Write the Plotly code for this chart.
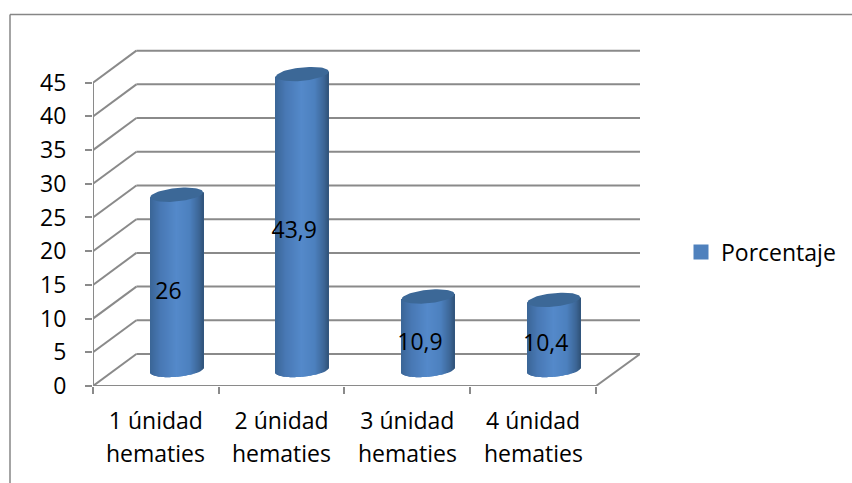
import math
import plotly.graph_objects as go

# Chart content
categories = ["1 únidad", "2 únidad", "3 únidad", "4 únidad"]
second_line = ["hematies", "hematies", "hematies", "hematies"]
values = [26, 43.9, 10.9, 10.4]
series_name = "Porcentaje"
y_ticks = [0, 5, 10, 15, 20, 25, 30, 35, 40, 45]

W, H = 852, 483
FONT = dict(family="Open Sans", size=23, color="#000000")
GREY = "#8a8a8a"

# Pseudo-3D box: how far the back wall sits from the front plane, in axis units
DX, DY = 0.345, 4.75
X_MAX, Y_MAX = 4.35, 54.3
# Cylinder proportions, in axis units
HALF_W, CAP_B, CAP_TILT = 0.21, 1.0, 0.37
CYL_SHIFT = 0.165
STRIPS = 53


def mix(c1, c2, t):
    return tuple(a + (b - a) * t for a, b in zip(c1, c2))


SHADE = [
    (-1.0, (58, 101, 150)),
    (-0.6, (72, 120, 180)),
    (0.0, (84, 137, 202)),
    (0.5, (76, 128, 190)),
    (0.85, (60, 102, 150)),
    (1.0, (48, 84, 122)),
]


def shade(u):
    for (u0, c0), (u1, c1) in zip(SHADE, SHADE[1:]):
        if u <= u1:
            r, g, b = mix(c0, c1, (u - u0) / (u1 - u0))
            return f"rgb({r:.0f},{g:.0f},{b:.0f})"
    return "rgb(48,84,122)"


# One narrow bar per shading strip, curved along the foot of the cylinder
strip_x, strip_base, strip_h, strip_col = [], [], [], []
for i, v in enumerate(values):
    cx = i + 0.5 + CYL_SHIFT
    for s in range(STRIPS):
        u = -1 + (2 * s + 1) / STRIPS
        base = DY / 2 + CAP_TILT * u - CAP_B * math.sqrt(1 - u * u)
        top = v + DY / 2 + CAP_TILT * u
        strip_x.append(cx + u * HALF_W)
        strip_base.append(base)
        strip_h.append(top - base)
        strip_col.append(shade(u))

fig = go.Figure()
fig.add_bar(
    x=strip_x, y=strip_h, base=strip_base, width=2 * HALF_W / STRIPS,
    marker=dict(color=strip_col, line_width=0),
    showlegend=False, hoverinfo="skip",
)

# Elliptical cap on each cylinder
for i, v in enumerate(values):
    cx = i + 0.5 + CYL_SHIFT
    ts = [2 * math.pi * k / 72 for k in range(73)]
    fig.add_scatter(
        x=[cx + HALF_W * math.cos(t) for t in ts],
        y=[v + DY / 2 + CAP_B * math.sin(t) + CAP_TILT * math.cos(t) for t in ts],
        mode="lines", fill="toself", fillcolor="#3c6897", line=dict(width=0),
        showlegend=False, hoverinfo="skip",
    )

# Value labels
fig.add_scatter(
    x=[i + 0.6 for i in range(len(values))],
    y=[v / 2 + 0.8 for v in values],
    text=[str(v).replace(".", ",") for v in values],
    mode="text", textposition="middle center", textfont=FONT,
    showlegend=False, hoverinfo="skip",
)

# Legend entry
fig.add_scatter(
    x=[None], y=[None], mode="markers", name=series_name,
    marker=dict(symbol="square", size=15, color="#4f81bd"),
)

# Walls and floor of the box
shapes = []


def seg(x0, y0, x1, y1):
    shapes.append(dict(
        type="line", xref="x", yref="y", x0=x0, y0=y0, x1=x1, y1=y1,
        layer="below", line=dict(color=GREY, width=2),
    ))


for t in y_ticks:
    seg(0, t, DX, t + DY)
    seg(DX, t + DY, X_MAX, t + DY)
seg(0, 0, 0, y_ticks[-1])
seg(0, 0, len(categories), 0)
seg(len(categories), 0, X_MAX, DY)

# Outer chart frame, open on the right and at the bottom
for x0, y0, x1, y1 in [(10, 14.5, 10, H), (10, 14.5, W, 14.5)]:
    shapes.append(dict(
        type="line", xref="paper", yref="paper",
        x0=x0 / W, x1=x1 / W, y0=1 - y0 / H, y1=1 - y1 / H,
        line=dict(color="#868686", width=1.5),
    ))

annotations = [
    dict(x=i + 0.5, xref="x", y=1 - 453 / H, yref="paper", text=t,
         showarrow=False, font=FONT, xanchor="center", yanchor="middle")
    for i, t in enumerate(second_line)
]

fig.update_layout(
    width=W, height=H, margin=dict(l=0, r=0, t=0, b=0, autoexpand=False),
    paper_bgcolor="white", plot_bgcolor="rgba(0,0,0,0)",
    shapes=shapes, annotations=annotations,
    legend=dict(x=681 / W, y=1 - 252 / H, xanchor="left", yanchor="middle",
                font=FONT, itemsizing="trace", bgcolor="rgba(0,0,0,0)"),
    xaxis=dict(
        domain=[93 / W, 640 / W], range=[0, X_MAX], showgrid=False, zeroline=False,
        tickmode="array", tickvals=[i + 0.5 for i in range(len(categories))],
        ticktext=categories, ticks="", tickfont=FONT, ticklabelstandoff=19,
        minor=dict(tickmode="array", tickvals=list(range(len(categories) + 1)),
                   ticks="outside", ticklen=7, tickwidth=1.5, tickcolor=GREY, showgrid=False),
    ),
    yaxis=dict(
        domain=[1 - 386 / H, 1 - 20 / H], range=[0, Y_MAX], showgrid=False, zeroline=False,
        tickmode="array", tickvals=y_ticks, ticks="outside", ticklen=7, tickwidth=1.5,
        tickcolor=GREY, tickfont=FONT, ticklabelstandoff=14,
    ),
)

fig.write_html("out.html")
